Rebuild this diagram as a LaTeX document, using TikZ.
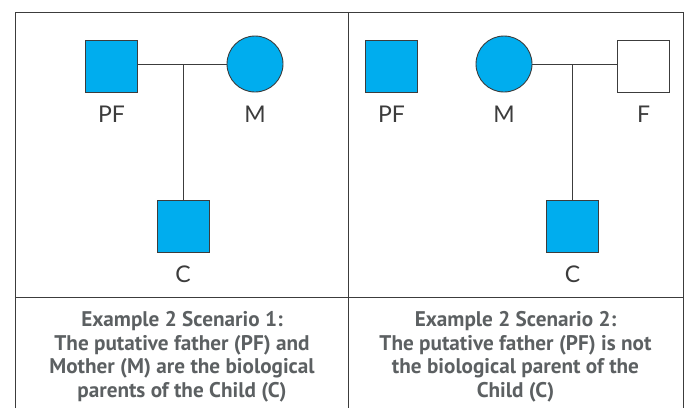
\documentclass[tikz,border=0pt]{standalone}
\usepackage{fontspec}
\setmainfont{Liberation Sans}
\newfontfamily\namefont{Lato}
\newfontfamily\captfont{PT Sans}
\definecolor{pedblue}{HTML}{00ADEE}
\definecolor{framegray}{HTML}{3C3C3C}
\definecolor{captgray}{HTML}{5C6062}
\begin{document}
\begin{tikzpicture}
[x=1pt,y=-1pt,
  sqdecorate/.style={shape=rectangle,minimum size=52pt,inner sep=0pt,draw=framegray,line width=0.9pt,fill=pedblue},%
  circdecorate/.style={shape=circle,minimum size=56pt,inner sep=0pt,draw=framegray,line width=0.9pt,fill=pedblue},
  namedecorate/.style={font=\namefont\fontsize{23}{25}\selectfont,text=framegray,inner sep=0pt},
  captdecorate/.style={font=\captfont\bfseries\fontsize{21.2}{23.5}\selectfont,text=captgray,align=center,inner sep=0pt},
  linedecorate/.style={draw=framegray,line width=0.9pt}]
\useasboundingbox (0,0) rectangle (687,408);
%% frame
\draw[linedecorate] (15,408) -- (15,12) -- (683,12) -- (683,408);
\draw[linedecorate] (348.5,12) -- (348.5,408);
\draw[linedecorate] (15,297) -- (683,297);
%% persons
\foreach \nodename/\x/\y/\shape/\name in {pfa/111.5/66/sqdecorate/PF,
  ma/255/64/circdecorate/M, ca/183/226.5/sqdecorate/C,
  pfb/391.5/66/sqdecorate/PF, mb/504/64/circdecorate/M,
  cb/572.5/226.5/sqdecorate/C} {
  \node (\nodename) at (\x,\y) [\shape] {};
  \node (\nodename-name) [namedecorate,below=13pt] at (\nodename.south) {\name};
}
\node (fb) at (643.5,66) [sqdecorate,fill=white] {};
\node (fb-name) [namedecorate,below=13pt] at (fb.south) {F};
%% lines
\coordinate (joina) at (183,64);
\coordinate (joinb) at (572.5,64);
\draw[linedecorate] (ma.west) -- (ma.west -| pfa.east);
\draw[linedecorate] (joina) -- (ca.north);
\draw[linedecorate] (mb.east) -- (mb.east -| fb.west);
\draw[linedecorate] (joinb) -- (cb.north);
%% captions
\node (capta) at (182,357) [captdecorate] {Example 2 Scenario 1:\\The putative father (PF) and\\Mother (M) are the biological\\parents of the Child (C)};
\node (captb) at (515.5,357) [captdecorate] {Example 2 Scenario 2:\\The putative father (PF) is not\\the biological parent of the\\Child (C)};
\end{tikzpicture}
\end{document}
